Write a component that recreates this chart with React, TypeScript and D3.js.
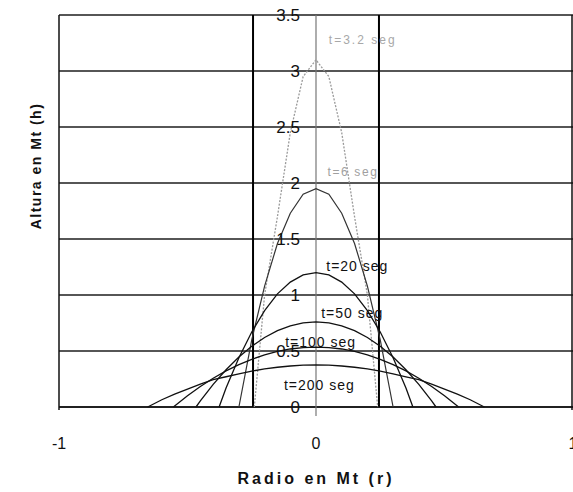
import React from "react";
import * as d3 from "d3";

const W = 573;
const H = 492;

const xTicks = [-1, 0, 1];
const yTicks = [0, 0.5, 1, 1.5, 2, 2.5, 3, 3.5];
const markerLines = [-0.245, 0.245];

const r3 = [-0.24, -0.2, -0.15, -0.1, -0.05, 0, 0.05, 0.1, 0.15, 0.2, 0.24];
const h3 = [0, 1.0, 1.7, 2.45, 2.95, 3.1, 2.95, 2.45, 1.7, 1.0, 0];

const r6 = [-0.3, -0.25, -0.2, -0.15, -0.1, -0.05, 0, 0.05, 0.1, 0.15, 0.2, 0.25, 0.3];
const h6 = [0, 0.6, 1.08, 1.46, 1.73, 1.9, 1.95, 1.9, 1.73, 1.46, 1.08, 0.6, 0];

const r20 = [-0.377, -0.35, -0.3, -0.25, -0.2, -0.15, -0.1, -0.05, 0, 0.05, 0.1, 0.15, 0.2, 0.25, 0.3, 0.35, 0.377];
const h20 = [0, 0.17, 0.44, 0.67, 0.86, 1.01, 1.115, 1.18, 1.2, 1.18, 1.115, 1.01, 0.86, 0.67, 0.44, 0.17, 0];

const r50 = [-0.467, -0.45, -0.4, -0.35, -0.3, -0.25, -0.2, -0.15, -0.1, -0.05, 0, 0.05, 0.1, 0.15, 0.2, 0.25, 0.3, 0.35, 0.4, 0.45, 0.467];
const h50 = [0, 0.054, 0.202, 0.333, 0.446, 0.542, 0.621, 0.682, 0.725, 0.751, 0.76, 0.751, 0.725, 0.682, 0.621, 0.542, 0.446, 0.333, 0.202, 0.054, 0];

const r100 = [-0.555, -0.5, -0.45, -0.4, -0.35, -0.3, -0.25, -0.2, -0.15, -0.1, -0.05, 0, 0.05, 0.1, 0.15, 0.2, 0.25, 0.3, 0.35, 0.4, 0.45, 0.5, 0.555];
const h100 = [0, 0.101, 0.183, 0.257, 0.322, 0.379, 0.426, 0.465, 0.496, 0.518, 0.531, 0.535, 0.531, 0.518, 0.496, 0.465, 0.426, 0.379, 0.322, 0.257, 0.183, 0.101, 0];

const r200 = [-0.655, -0.6, -0.55, -0.5, -0.45, -0.4, -0.35, -0.3, -0.25, -0.2, -0.15, -0.1, -0.05, 0, 0.05, 0.1, 0.15, 0.2, 0.25, 0.3, 0.35, 0.4, 0.45, 0.5, 0.55, 0.6, 0.655];
const h200 = [0, 0.065, 0.115, 0.16, 0.205, 0.245, 0.27, 0.296, 0.32, 0.34, 0.355, 0.366, 0.373, 0.375, 0.373, 0.366, 0.355, 0.34, 0.32, 0.296, 0.27, 0.245, 0.205, 0.16, 0.115, 0.065, 0];

const seriesNames = ["t=3.2 seg", "t=6 seg", "t=20 seg", "t=50 seg", "t=100 seg", "t=200 seg"];
const seriesR = [r3, r6, r20, r50, r100, r200];
const seriesH = [h3, h6, h20, h50, h100, h200];
// label anchor positions in data units
const labelR = [0.05, 0.045, 0.04, 0.02, -0.12, -0.125];
const labelH = [3.28, 2.1, 1.26, 0.84, 0.58, 0.2];

export default function App() {
  const x = d3.scaleLinear().domain([-1, 1]).range([59, 573]);
  const y = d3.scaleLinear().domain([0, 3.5]).range([407, 15]);
  const line = d3
    .line<[number, number]>()
    .x((d) => x(d[0]))
    .y((d) => y(d[1]));

  const styles = [
    { stroke: "#9a9a9a", width: 1.3, dash: "2,1.5" },
    { stroke: "#333", width: 1.2, dash: undefined },
    { stroke: "#111", width: 1.3, dash: undefined },
    { stroke: "#111", width: 1.3, dash: undefined },
    { stroke: "#111", width: 1.3, dash: undefined },
    { stroke: "#111", width: 1.3, dash: undefined },
  ];
  const labelStyles = [
    { fill: "#a8a8a8", size: 12, ls: 2 },
    { fill: "#a0a0a0", size: 12, ls: 1.6 },
    { fill: "#111", size: 14, ls: 1 },
    { fill: "#111", size: 14, ls: 1 },
    { fill: "#111", size: 14, ls: 1 },
    { fill: "#111", size: 14, ls: 1 },
  ];

  const x0 = x(-1);
  const x1 = x(1);
  const y0 = y(0);
  const yTop = y(3.5);

  return (
    <svg
      width={W}
      height={H}
      style={{ position: "fixed", left: 0, top: 0, background: "#fff" }}
      fontFamily="Arial, 'Liberation Sans', sans-serif"
    >
      <rect x={0} y={0} width={W} height={H} fill="#fff" />
      {/* horizontal gridlines */}
      {yTicks.map((t) => (
        <line key={"g" + t} x1={x0} x2={x1} y1={y(t)} y2={y(t)} stroke="#1e1e1e" strokeWidth={1.3} />
      ))}
      {/* frame */}
      <line x1={x0} x2={x0} y1={yTop} y2={y0 + 3} stroke="#111" strokeWidth={1.5} />
      <line x1={x1 - 1} x2={x1 - 1} y1={yTop} y2={y0 + 3} stroke="#111" strokeWidth={1.5} />
      <line x1={x0} x2={x1} y1={y0} y2={y0} stroke="#111" strokeWidth={1.6} />
      {/* center axis */}
      <line x1={x(0)} x2={x(0)} y1={yTop} y2={y0 + 9} stroke="#777" strokeWidth={1.2} />
      {/* black marker verticals */}
      {markerLines.map((m) => (
        <line key={"m" + m} x1={x(m)} x2={x(m)} y1={yTop} y2={y0} stroke="#000" strokeWidth={2} />
      ))}
      {/* curves */}
      {seriesR.map((rs, i) => {
        const pts = rs.map((r, j) => [r, seriesH[i][j]] as [number, number]);
        return (
          <path
            key={"s" + i}
            d={line(pts) || ""}
            fill="none"
            stroke={styles[i].stroke}
            strokeWidth={styles[i].width}
            strokeDasharray={styles[i].dash}
          />
        );
      })}
      {/* y tick labels */}
      {yTicks.map((t) => (
        <text
          key={"yt" + t}
          x={x(0) - 16}
          y={y(t)}
          textAnchor="end"
          dominantBaseline="central"
          fontSize={17}
          fill="#111"
        >
          {String(t)}
        </text>
      ))}
      {/* x tick labels */}
      {xTicks.map((t) => (
        <text key={"xt" + t} x={x(t)} y={443} textAnchor="middle" dominantBaseline="central" fontSize={16} fill="#111">
          {String(t)}
        </text>
      ))}
      {/* series labels */}
      {seriesNames.map((n, i) => (
        <text
          key={"l" + i}
          x={x(labelR[i])}
          y={y(labelH[i])}
          dominantBaseline="central"
          fontSize={labelStyles[i].size}
          fill={labelStyles[i].fill}
          letterSpacing={labelStyles[i].ls}
        >
          {n}
        </text>
      ))}
      {/* axis titles */}
      <text x={x(0)} y={478} textAnchor="middle" dominantBaseline="central" fontSize={16} fontWeight="bold" letterSpacing={3} fill="#111">
        Radio en Mt (r)
      </text>
      <text
        transform={`translate(36,166) rotate(-90)`}
        textAnchor="middle"
        dominantBaseline="central"
        fontSize={14}
        fontWeight="bold"
        letterSpacing={1.5}
        fill="#111"
      >
        Altura en Mt (h)
      </text>
    </svg>
  );
}
